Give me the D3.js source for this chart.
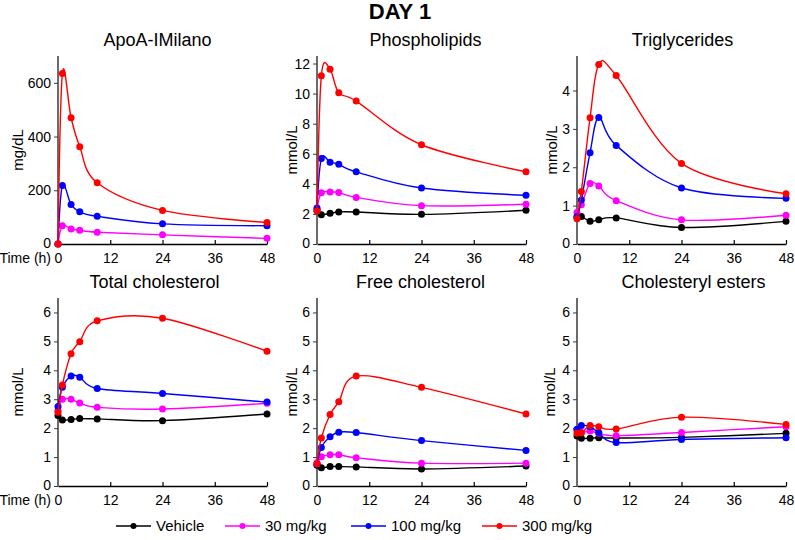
<!DOCTYPE html>
<html>
<head>
<meta charset="utf-8">
<script src="https://cdn.jsdelivr.net/npm/d3@7"></script>
<style>
  body { margin: 0; background: #fff; }
  svg text { font-family: "Liberation Sans", Arial, sans-serif; fill: #000; }
</style>
</head>
<body>
<div id="chart"></div>
<script>
// sampling times (h)
const hours = [0, 1, 3, 5, 9, 24, 48];
const groups = ['Vehicle', '30 mg/kg', '100 mg/kg', '300 mg/kg'];
const xTicks = [0, 12, 24, 36, 48];

// ApoA-IMilano (mg/dL) - no vehicle curve
const apoa30 = [0, 68, 56, 51, 44, 34, 21];
const apoa100 = [0, 218, 147, 120, 103, 75, 68];
const apoa300 = [0, 635, 470, 362, 228, 125, 80];

// phospholipids (mmol/L)
const pl0 = [2.25, 1.95, 2.04, 2.13, 2.13, 1.97, 2.24];
const pl30 = [2.3, 3.4, 3.45, 3.43, 3.1, 2.55, 2.64];
const pl100 = [2.4, 5.68, 5.44, 5.3, 4.8, 3.72, 3.24];
const pl300 = [2.2, 11.18, 11.62, 10.05, 9.5, 6.6, 4.8];

// triglycerides (mmol/L)
const tg0 = [0.7, 0.72, 0.59, 0.63, 0.68, 0.43, 0.59];
const tg30 = [0.82, 1.02, 1.58, 1.51, 1.13, 0.63, 0.75];
const tg100 = [0.72, 1.15, 2.38, 3.3, 2.57, 1.46, 1.19];
const tg300 = [0.66, 1.37, 3.29, 4.68, 4.39, 2.1, 1.31];

// total cholesterol (mmol/L)
const tc0 = [2.44, 2.28, 2.3, 2.33, 2.32, 2.26, 2.49];
const tc30 = [2.62, 3.0, 3.0, 2.87, 2.72, 2.66, 2.86];
const tc100 = [2.75, 3.41, 3.8, 3.76, 3.37, 3.2, 2.9];
const tc300 = [2.55, 3.49, 4.57, 4.99, 5.71, 5.8, 4.66];

// free cholesterol (mmol/L)
const fc0 = [0.72, 0.63, 0.67, 0.67, 0.66, 0.59, 0.69];
const fc30 = [0.8, 1.01, 1.08, 1.08, 0.98, 0.79, 0.79];
const fc100 = [0.75, 1.33, 1.7, 1.86, 1.85, 1.57, 1.23];
const fc300 = [0.77, 1.66, 2.47, 2.91, 3.8, 3.41, 2.49];

// cholesteryl esters (mmol/L)
const ce0 = [1.73, 1.65, 1.65, 1.67, 1.66, 1.68, 1.82];
const ce30 = [1.93, 1.85, 1.9, 1.82, 1.74, 1.85, 2.05];
const ce100 = [1.96, 2.09, 2.05, 1.85, 1.5, 1.61, 1.67];
const ce300 = [1.82, 1.84, 2.09, 2.05, 1.97, 2.38, 2.13];

const cholTicks = [0, 1, 2, 3, 4, 5, 6];

const colors = ['#000000', '#ff00ff', '#0000ff', '#ff0000'];

const width = 795, height = 540;
const colX = [58, 317, 577];
const plotW = 209;
const rowTop = [56, 298];
const rowBottom = [244, 486];

const panels = [
  { title: 'ApoA-IMilano', unit: 'mg/dL', col: 0, row: 0, max: 700, ticks: [0, 200, 400, 600], series: [null, apoa30, apoa100, apoa300], titleDx: -5, labelOff: 40 },
  { title: 'Phospholipids', unit: 'mmol/L', col: 1, row: 0, max: 12.5, ticks: [0, 2, 4, 6, 8, 10, 12], series: [pl0, pl30, pl100, pl300], titleDx: 4, labelOff: 25 },
  { title: 'Triglycerides', unit: 'mmol/L', col: 2, row: 0, max: 4.9, ticks: [0, 1, 2, 3, 4], series: [tg0, tg30, tg100, tg300], titleDx: 1, labelOff: 25 },
  { title: 'Total cholesterol', unit: 'mmol/L', col: 0, row: 1, max: 6.5, ticks: cholTicks, series: [tc0, tc30, tc100, tc300], titleDx: -8, labelOff: 40 },
  { title: 'Free cholesterol', unit: 'mmol/L', col: 1, row: 1, max: 6.5, ticks: cholTicks, series: [fc0, fc30, fc100, fc300], titleDx: -1, labelOff: 25 },
  { title: 'Cholesteryl esters', unit: 'mmol/L', col: 2, row: 1, max: 6.5, ticks: cholTicks, series: [ce0, ce30, ce100, ce300], titleDx: 12, labelOff: 27 }
];

const svg = d3.select('#chart')
  .append('svg')
  .attr('width', width)
  .attr('height', height);

svg.append('text')
  .attr('x', 400)
  .attr('y', 19)
  .attr('text-anchor', 'middle')
  .style('font-size', '22px')
  .style('font-weight', 'bold')
  .text('DAY 1');

function drawPanel(p) {
  const x0 = colX[p.col];
  const top = rowTop[p.row], bottom = rowBottom[p.row];
  const xScale = d3.scaleLinear().domain([0, 48]).range([x0, x0 + plotW]);
  const yScale = d3.scaleLinear().domain([0, p.max]).range([bottom, top]);

  const g = svg.append('g');

  g.append('text')
    .attr('x', x0 + plotW / 2 + p.titleDx)
    .attr('y', top - 10)
    .attr('text-anchor', 'middle')
    .style('font-size', '18px')
    .text(p.title);

  // y axis
  const yAxis = g.append('g')
    .attr('transform', `translate(${x0},0)`)
    .call(d3.axisLeft(yScale).tickValues(p.ticks).tickFormat(d3.format('d'))
      .tickSize(4).tickPadding(3).tickSizeOuter(0));
  yAxis.select('.domain').remove();
  yAxis.append('line')
    .attr('x1', 0).attr('x2', 0)
    .attr('y1', top).attr('y2', bottom)
    .attr('stroke', '#3a3a3a').attr('stroke-width', 1.5);
  yAxis.selectAll('.tick line').attr('stroke', '#3a3a3a');
  yAxis.selectAll('text').style('font-size', '14px').attr('fill', '#000');
  // lift the zero label a little so it clears the "Time (h)" label
  yAxis.selectAll('.tick').filter(d => d === 0).select('text').attr('dy', '0.22em');

  // x axis, ticks pointing inward
  const xAxis = g.append('g')
    .attr('transform', `translate(0,${bottom})`)
    .call(d3.axisBottom(xScale).tickValues(xTicks).tickSize(-4).tickPadding(9).tickSizeOuter(0));
  xAxis.select('.domain').attr('stroke', '#000').attr('stroke-width', 1.5);
  xAxis.selectAll('.tick line').attr('stroke', '#000').attr('stroke-width', 1.2);
  xAxis.selectAll('.tick').filter(d => d === 0).select('line').remove();
  xAxis.selectAll('text').style('font-size', '14px').attr('fill', '#000');

  if (p.col === 0) {
    g.append('text')
      .attr('x', x0 - 7)
      .attr('y', bottom + 9)
      .attr('dy', '0.71em')
      .attr('text-anchor', 'end')
      .style('font-size', '14px')
      .text('Time (h)');
  }

  g.append('text')
    .attr('transform', `translate(${x0 - p.labelOff},${(top + bottom) / 2}) rotate(-90)`)
    .attr('text-anchor', 'middle')
    .attr('dy', '0.35em')
    .style('font-size', '15px')
    .text(p.unit);

  const line = d3.line()
    .x(d => xScale(d.h))
    .y(d => yScale(d.v))
    .curve(d3.curveCatmullRom.alpha(0));

  p.series.forEach((vals, i) => {
    if (!vals) return;
    const pts = vals.map((v, k) => ({ h: hours[k], v: v }));
    g.append('path')
      .datum(pts)
      .attr('fill', 'none')
      .attr('stroke', colors[i])
      .attr('stroke-width', 1.4)
      .attr('d', line);
    g.selectAll(null)
      .data(pts)
      .join('circle')
      .attr('cx', d => xScale(d.h))
      .attr('cy', d => yScale(d.v))
      .attr('r', 3.5)
      .attr('fill', colors[i]);
  });
}

panels.forEach(drawPanel);

// legend
const legendX = [116, 225, 351, 482];
const legend = svg.append('g').attr('transform', 'translate(0,526)');
groups.forEach((name, i) => {
  const lx = legendX[i];
  legend.append('line')
    .attr('x1', lx).attr('x2', lx + 35)
    .attr('y1', 0).attr('y2', 0)
    .attr('stroke', colors[i]).attr('stroke-width', 1.4);
  legend.append('circle')
    .attr('cx', lx + 17.5).attr('cy', 0).attr('r', 3)
    .attr('fill', colors[i]);
  legend.append('text')
    .attr('x', lx + 40)
    .attr('y', 0)
    .attr('dy', '0.35em')
    .style('font-size', '15px')
    .text(name);
});
</script>
</body>
</html>
